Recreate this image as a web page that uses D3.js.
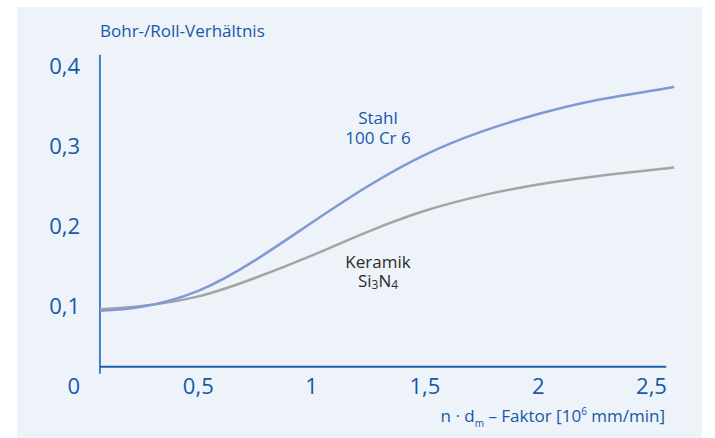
<!DOCTYPE html>
<html>
<head>
<meta charset="utf-8">
<script src="https://cdn.jsdelivr.net/npm/d3@7"></script>
<style>
  body { margin: 0; background: #fff; }
  svg { display: block; font-family: "Open Sans", "Noto Sans", sans-serif; }
</style>
</head>
<body>
<div id="chart"></div>
<script>
// values
var xValues  = [0.066, 0.25, 0.5, 0.75, 1.0, 1.25, 1.5, 1.75, 2.0, 2.25, 2.5, 2.6];
var stahl    = [0.094, 0.099, 0.119, 0.157, 0.204, 0.250, 0.289, 0.318, 0.340, 0.357, 0.369, 0.374];
var keramik  = [0.096, 0.100, 0.112, 0.135, 0.163, 0.193, 0.219, 0.238, 0.252, 0.262, 0.270, 0.273];
var xTicks   = [0.5, 1, 1.5, 2, 2.5];
var yTicks   = [0, 0.1, 0.2, 0.3, 0.4];

var w = 715, h = 438;
var blue = "#1559a8";

var fmt = d3.formatLocale({decimal: ",", thousands: ".", grouping: [3], currency: ["", "€"]}).format("~g");

var svg = d3.select("#chart").append("svg")
    .attr("width", w)
    .attr("height", h);

// panel background
svg.append("rect")
    .attr("x", 17).attr("y", 7)
    .attr("width", 685).attr("height", 431)
    .attr("fill", "#eef2f9");

var x = d3.scaleLinear().domain([0, 2.5]).range([85, 651.5]);
var y = d3.scaleLinear().domain([0, 0.4]).range([386, 66]);

var xLo = 0.066, xHi = 2.565;   // visible x-axis extent
var yLo = 0.024, yHi = 0.414;   // visible y-axis extent

// axes lines
svg.append("line")
    .attr("x1", x(xLo)).attr("x2", x(xLo))
    .attr("y1", y(yHi)).attr("y2", y(yLo) + 7)
    .attr("stroke", "#3f7fcc").attr("stroke-width", 2);
svg.append("line")
    .attr("x1", x(xLo)).attr("x2", x(xHi))
    .attr("y1", y(yLo)).attr("y2", y(yLo))
    .attr("stroke", "#1f5ea8").attr("stroke-width", 2);

// tick labels
svg.selectAll(".ylab").data(yTicks).enter().append("text")
    .attr("class", "ylab")
    .attr("x", 80)
    .attr("y", function(d) { return y(d) + 8; })
    .attr("text-anchor", "end")
    .attr("font-size", 22)
    .attr("fill", blue)
    .text(function(d) { return fmt(d); });

svg.selectAll(".xlab").data(xTicks).enter().append("text")
    .attr("class", "xlab")
    .attr("x", function(d) { return x(d); })
    .attr("y", y(0) + 8)
    .attr("text-anchor", "middle")
    .attr("font-size", 22)
    .attr("fill", blue)
    .text(function(d) { return fmt(d); });

// axis titles
svg.append("text")
    .attr("x", 100).attr("y", 37)
    .attr("font-size", 17)
    .attr("fill", blue)
    .text("Bohr-/Roll-Verhältnis");

var xt = svg.append("text")
    .attr("x", 665).attr("y", 422)
    .attr("text-anchor", "end")
    .attr("font-size", 17)
    .attr("fill", blue);
xt.append("tspan").text("n · d");
xt.append("tspan").attr("font-size", 10).attr("dy", 5).text("m");
xt.append("tspan").attr("dy", -5).text(" – Faktor [10");
xt.append("tspan").attr("font-size", 10).attr("dy", -7).text("6");
xt.append("tspan").attr("dy", 7).text(" mm/min]");

// curves
var line = d3.line()
    .x(function(d) { return x(d[0]); })
    .y(function(d) { return y(d[1]); })
    .curve(d3.curveNatural);

svg.append("path")
    .datum(d3.zip(xValues, keramik))
    .attr("d", line)
    .attr("fill", "none")
    .attr("stroke", "#a4a4a4")
    .attr("stroke-width", 2.5);

svg.append("path")
    .datum(d3.zip(xValues, stahl))
    .attr("d", line)
    .attr("fill", "none")
    .attr("stroke", "#8098d6")
    .attr("stroke-width", 2.5);

// curve labels, one text per line
function label(txt, ly, col) {
  return svg.append("text")
    .attr("x", 378).attr("y", ly)
    .attr("text-anchor", "middle")
    .attr("font-size", 17)
    .attr("fill", col)
    .text(txt);
}
label("Stahl", 124, blue);
label("100 Cr 6", 144, blue);
label("Keramik", 268, "#2b2b2b");

var si = svg.append("text")
    .attr("x", 378).attr("y", 287)
    .attr("text-anchor", "middle")
    .attr("font-size", 17)
    .attr("fill", "#2b2b2b");
si.append("tspan").text("Si");
si.append("tspan").attr("font-size", 12).attr("dy", 2).text("3");
si.append("tspan").attr("dy", -2).text("N");
si.append("tspan").attr("font-size", 12).attr("dy", 2).text("4");
</script>
</body>
</html>
